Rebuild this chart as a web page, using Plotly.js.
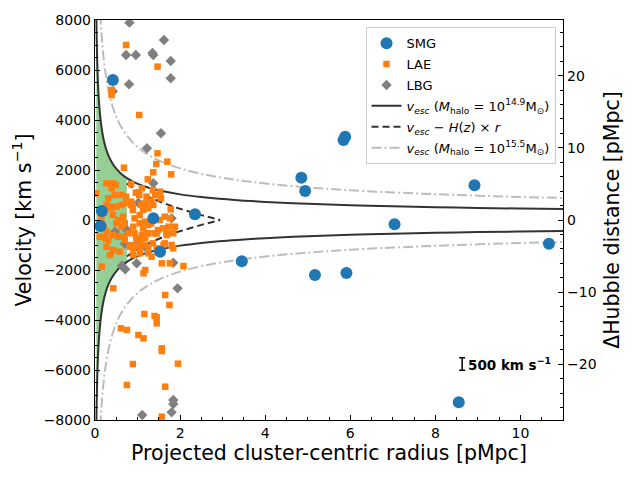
<!DOCTYPE html>
<html>
<head>
<meta charset="utf-8">
<script src="https://cdn.plot.ly/plotly-3.0.1.min.js"></script>
<style>html,body{margin:0;padding:0;background:#fff;}#chart{width:640px;height:480px;}</style>
</head>
<body>
<div id="chart"></div>
<script>
// ---- Data ----
// SMG: projected radius [pMpc], velocity [km/s]
const smgR = [0.42, 4.85, 4.94, 5.84, 5.88, 8.92, 7.04, 10.67, 3.45, 5.17, 5.91, 8.55, 2.35, 1.37, 1.53, 0.16, 0.13];
const smgV = [5600, 1690, 1160, 3200, 3330, 1387, -173, -947, -1653, -2200, -2120, -7290, 228, 67, -1267, 360, -240];

// LAE
const laeR = [0.73, 1.47, 0.39, 0.39, 1.04, 1.47, 1.44, 1.70, 1.37, 1.79, 0.68, 1.24,
  0.27, 0.42, 0.49, 0.39, 0.85, 0.31, 0.96, 1.04, 1.10, 0.73, 1.36, 1.41, 1.53, 1.55,
  0.85, 0.89, 1.18, 1.29, 1.37, 0.35, 1.78, 0.03, 0.46, 0.62, 1.21, 1.33,
  0.74, 0.85, 0.89, 1.09, 1.13, 1.25, 0.27, 0.38, 0.50, 0.62,
  0.42, 0.54, 0.66, 0.70, 0.62, 0.50, 1.05, 0.93, 1.05, 1.17, 1.25, 1.32, 1.52, 1.64, 1.76,
  0.11, 0.27, 0.31, 0.42, 0.54, 0.70, 0.78, 0.93, 0.97,
  1.13, 1.25, 1.40, 1.48, 1.60, 1.68, 1.84, 1.88,
  0.27, 0.42, 0.58, 0.89, 1.05, 1.13, 1.25, 1.36, 1.64, 1.80, 1.84,
  0.24, 0.63, 1.06, 1.10, 1.18, 1.22, 1.45, 1.69, 1.73, 0.86, 1.06, 0.90,
  0.82, 1.02, 1.61, 1.45, 0.90, 1.06, 1.25, 1.33, 0.35, 1.57, 1.76, 0.16, 1.18, 1.14, 0.43,
  2.08, 1.65, 1.75, 1.16, 1.40, 1.45, 1.45, 0.61, 0.75, 1.02, 1.14, 1.57, 1.57, 0.89, 1.95,
  0.75, 1.65, 1.57, 0.15, 0.20, 0.22];
const laeV = [7000, 6133, 5200, 5000, 4200, 2667, 2240, 2333, 1907, 1827, 2093, 1627,
  1467, 1467, 1400, 1267, 1440, 870, 1093, 1000, 1267, 933, 1200, 1000, 1133, 867,
  733, 560, 667, 773, 600, 533, 427, 1067, 1000, 1000, 933, 733,
  667, 600, 400, 600, 400, 467, 600, 467, 533, 600,
  200, 0, 133, -133, -267, -133, 200, 67, -133, -67, -200, -133, 0, 133, 67,
  -667, -467, -800, -600, -667, -800, -533, -533, -733,
  -333, -533, -533, -400, -333, -533, -533, -267,
  -1067, -1200, -1267, -1133, -1133, -1000, -1067, -933, -933, -1000, -1133,
  -733, -667, -800, -600, -733, -533, -533, -600, -267, -1000, -1000, -267,
  -1067, -1040, -1000, -1133, -1400, -1333, -1333, -1467, -1400, -1733, -1733, -1867, -2000, -2133, -2733,
  -1840, -3000, -3400, -3760, -3840, -3893, -4133, -4333, -4400, -4600, -4733, -5133, -5240, -5760, -5747,
  -6600, -6667, -7867, 100, -300, 300];

// LBG
const lbgR = [0.81, 1.62, 0.73, 0.96, 1.35, 1.37, 1.78, 1.78, 0.80, 0.42, 1.55, 1.22, 1.37, 1.02, 1.80,
  0.75, 0.47, 1.02, 1.18, 0.63, 0.71, 0.98, 1.84, 1.94, 1.84, 1.84, 1.80, 1.11, 0.70];
const lbgV = [7893, 7200, 6600, 6600, 6680, 6600, 6360, 5667, 5427, 5150, 3467, 2867, 1467, 693, 67,
  -400, -467, -933, -1067, -1827, -1973, -1733, -1707, -2733, -7200, -7360, -7693, -7800, -950];

// Escape-velocity curves
const escR = [0.03, 0.04, 0.05, 0.06, 0.08, 0.1, 0.13, 0.16, 0.2, 0.25, 0.3, 0.4, 0.5, 0.6, 0.75,
  0.9, 1.1, 1.3, 1.6, 2, 2.5, 3, 3.5, 4, 5, 6, 7, 8, 9, 10, 11];
const escV149 = [8372, 7250, 6485, 5920, 5127, 4585, 4022, 3625, 3242, 2900, 2647, 2293, 2051, 1872, 1674,
  1528, 1383, 1272, 1146, 1025, 917, 837, 775, 725, 648, 592, 548, 513, 483, 459, 437];
const escV155 = [16860, 14600, 13060, 11920, 10320, 9234, 8099, 7300, 6529, 5840, 5331, 4617, 4130, 3770, 3372,
  3078, 2784, 2561, 2308, 2065, 1847, 1686, 1561, 1460, 1306, 1192, 1104, 1032, 973, 923, 880];
// v_esc - H(z) x r
const hubR = [0.75, 0.9, 1.1, 1.3, 1.6, 2, 2.5, 2.94];
const hubV = [1457, 1268, 1065, 896, 684, 447, 194, 0];
// green core region (inside the v_esc curve out to 0.75 pMpc)
const coreR = [0.03, 0.04, 0.05, 0.06, 0.08, 0.1, 0.13, 0.16, 0.2, 0.25, 0.3, 0.4, 0.5, 0.6, 0.75];
const coreV = [8372, 7250, 6485, 5920, 5127, 4585, 4022, 3625, 3242, 2900, 2647, 2293, 2051, 1872, 1674];

const hubbleH = 288.6; // km/s per pMpc, right-axis conversion
const vMax = 8000;
const scaleBar = {r: 8.63, v: -5760, half: 250, label: '<b>500 km s<sup>\u22121</sup></b>'};

const neg = a => a.map(v => -v);

const dark = '#333333', light = '#bdbdbd';

const traces = [
  {x: coreR.concat([0.75]).concat(coreR.slice().reverse()), y: coreV.concat([-1674]).concat(neg(coreV).reverse()),
   type: 'scatter', mode: 'lines', fill: 'toself', fillcolor: 'rgba(44,160,44,0.5)', line: {width: 0},
   showlegend: false, hoverinfo: 'skip', legendgroup: 'z'},
  {x: escR, y: escV149, type: 'scatter', mode: 'lines', line: {color: dark, width: 2, shape: 'spline'}, legendgroup: 'd',
   name: '<i>v<sub>esc</sub></i> (<i>M</i><sub>halo</sub> = 10<sup>14.9</sup>M<sub>\u2299</sub>)', legendrank: 4},
  {x: escR, y: neg(escV149), type: 'scatter', mode: 'lines', line: {color: dark, width: 2, shape: 'spline'}, showlegend: false, legendgroup: 'd'},
  {x: hubR, y: hubV, type: 'scatter', mode: 'lines', line: {color: dark, width: 2, dash: '7px,4px'}, legendgroup: 'e',
   name: '<i>v<sub>esc</sub></i> \u2212 <i>H</i>(<i>z</i>) \u00d7 <i>r</i>', legendrank: 5},
  {x: hubR, y: neg(hubV), type: 'scatter', mode: 'lines', line: {color: dark, width: 2, dash: '7px,4px'}, showlegend: false, legendgroup: 'e'},
  {x: escR, y: escV155, type: 'scatter', mode: 'lines', line: {color: light, width: 2, dash: '10px,3px,2px,3px', shape: 'spline'}, legendgroup: 'f',
   name: '<i>v<sub>esc</sub></i> (<i>M</i><sub>halo</sub> = 10<sup>15.5</sup>M<sub>\u2299</sub>)', legendrank: 6},
  {x: escR, y: neg(escV155), type: 'scatter', mode: 'lines', line: {color: light, width: 2, dash: '10px,3px,2px,3px', shape: 'spline'}, showlegend: false, legendgroup: 'f'},
  {x: lbgR, y: lbgV, type: 'scatter', mode: 'markers', name: 'LBG', legendrank: 3, legendgroup: 'c',
   marker: {symbol: 'diamond', size: 8, color: '#808080'}},
  {x: laeR, y: laeV, type: 'scatter', mode: 'markers', name: 'LAE', legendrank: 2, legendgroup: 'b',
   marker: {symbol: 'square', size: 6.5, color: '#ff7f0e'}},
  {x: smgR, y: smgV, type: 'scatter', mode: 'markers', name: 'SMG', legendrank: 1, legendgroup: 'a',
   marker: {symbol: 'circle', size: 12, color: '#1f77b4'}},
  {x: [scaleBar.r], y: [scaleBar.v], type: 'scatter', mode: 'markers', marker: {size: 1, color: 'rgba(0,0,0,0)'},
   error_y: {type: 'data', array: [scaleBar.half], symmetric: true, color: '#000', thickness: 1.5, width: 3},
   showlegend: false, hoverinfo: 'skip', legendgroup: 'z'},
  {x: [null], y: [null], yaxis: 'y2', type: 'scatter', mode: 'markers', showlegend: false, hoverinfo: 'skip', legendgroup: 'z'}
];

const font = {family: 'DejaVu Sans, sans-serif', color: '#000'};
const layout = {
  width: 640, height: 480,
  margin: {l: 95, r: 77, t: 20, b: 60, pad: 0},
  paper_bgcolor: '#fff', plot_bgcolor: '#fff',
  font: Object.assign({size: 14}, font),
  showlegend: true,
  legend: {x: 0.984, y: 0.982, xanchor: 'right', yanchor: 'top', bgcolor: 'rgba(255,255,255,0.9)',
           bordercolor: '#cccccc', borderwidth: 1, font: Object.assign({size: 13}, font),
           traceorder: 'grouped', tracegroupgap: 1, itemwidth: 30},
  xaxis: {range: [0, 11], showgrid: false, zeroline: false, showline: true, linecolor: '#000', linewidth: 1.2, mirror: true,
          ticks: 'inside', ticklen: 5, tickcolor: '#000', dtick: 2, tick0: 0,
          minor: {dtick: 0.5, ticks: 'inside', ticklen: 3, tickcolor: '#000', showgrid: false},
          tickfont: Object.assign({size: 14}, font),
          title: {text: 'Projected cluster-centric radius [pMpc]', font: Object.assign({size: 20.5}, font), standoff: 5}},
  yaxis: {range: [-vMax, vMax], showgrid: false, zeroline: false, showline: true, linecolor: '#000', linewidth: 1.2,
          ticks: 'inside', ticklen: 5, tickcolor: '#000', dtick: 2000,
          minor: {dtick: 500, ticks: 'inside', ticklen: 3, tickcolor: '#000', showgrid: false},
          tickfont: Object.assign({size: 14}, font),
          title: {text: 'Velocity [km s<sup>\u22121</sup>]', font: Object.assign({size: 20.5}, font), standoff: 6}},
  yaxis2: {overlaying: 'y', side: 'right', range: [-vMax / hubbleH, vMax / hubbleH], showgrid: false, zeroline: false,
           showline: true, linecolor: '#000', linewidth: 1.2, ticks: 'inside', ticklen: 5, tickcolor: '#000', dtick: 10,
           minor: {dtick: 2, ticks: 'inside', ticklen: 3, tickcolor: '#000', showgrid: false},
           tickfont: Object.assign({size: 14}, font),
           title: {text: '\u0394Hubble distance [pMpc]', font: Object.assign({size: 20.5}, font), standoff: 9}},
  annotations: [{x: scaleBar.r + 0.08, y: scaleBar.v, xref: 'x', yref: 'y', text: scaleBar.label, showarrow: false,
                 xanchor: 'left', yanchor: 'middle', font: Object.assign({size: 13.5}, font)}]
};

Plotly.newPlot('chart', traces, layout, {displayModeBar: false, staticPlot: true});
</script>
</body>
</html>
